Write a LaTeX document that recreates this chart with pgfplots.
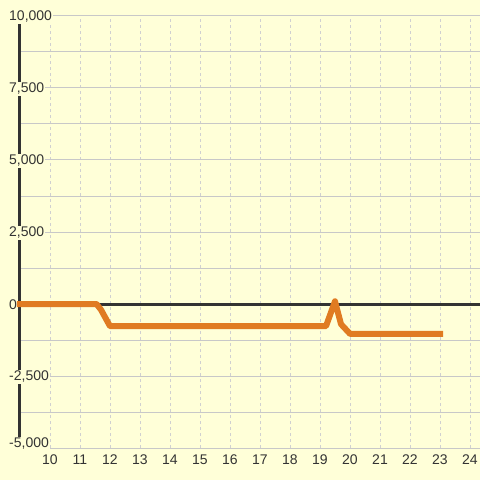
\documentclass[border=0pt]{standalone}
\usepackage{pgfplots}
\pgfplotsset{compat=1.18}
\usepackage{fontspec}
\setmainfont{Liberation Sans}
\definecolor{bg}{HTML}{FFFFD8}
\definecolor{dk}{HTML}{333333}
\definecolor{gr}{HTML}{C8C8C8}
\definecolor{orl}{HTML}{E07B22}
\begin{document}
\begin{tikzpicture}[x=1pt,y=1pt]
\fill[bg] (0,0) rectangle (480,480);
\path[use as bounding box] (0,0) rectangle (480,480);
\begin{axis}[
  at={(20pt,32pt)}, anchor=south west,
  scale only axis, width=460pt, height=432pt,
  xmin=9, xmax=24.3333, ymin=-5000, ymax=10000,
  clip=false,
  scaled y ticks=false,
  /pgf/number format/assume math mode=true,
  axis lines*=left,
  x axis line style={draw=none},
  y axis line style={dk, line width=3pt},
  xtick={10,...,24},
  ytick={-2500,0,2500,5000,7500,10000},
  yticklabels={{-2,500},0,{2,500},{5,000},{7,500},{10,000}},
  extra y ticks={-5000},
  extra y tick labels={-5{,}000},
  extra y tick style={yticklabel style={yshift=5pt}, ymajorgrids},
  minor ytick={-3750,-1250,1250,3750,6250,8750},
  ymajorgrids, yminorgrids, xmajorgrids,
  y grid style={gr, line width=1pt},
  x grid style={gr!85, line width=0.8pt, dash pattern=on 3pt off 3pt},
  major tick length=0pt, minor tick length=0pt,
  tick label style={font=\fontsize{14}{16}\selectfont, text=dk},
  yticklabel style={anchor=west, xshift=-12pt, yshift=-1pt, fill=bg, inner sep=1pt},
  xticklabel style={anchor=north, yshift=-3pt},
]
\draw[dk, line width=3pt] (axis cs:9,0) -- (axis cs:24.3333,0);
\addplot[orl, line width=6pt, line join=round, line cap=rect] coordinates {
  (9,0) (11.55,0) (11.7,-200) (12,-770) (19.2,-770) (19.5,95) (19.7,-700) (20,-1035) (23,-1035)
};
\end{axis}
\end{tikzpicture}
\end{document}
